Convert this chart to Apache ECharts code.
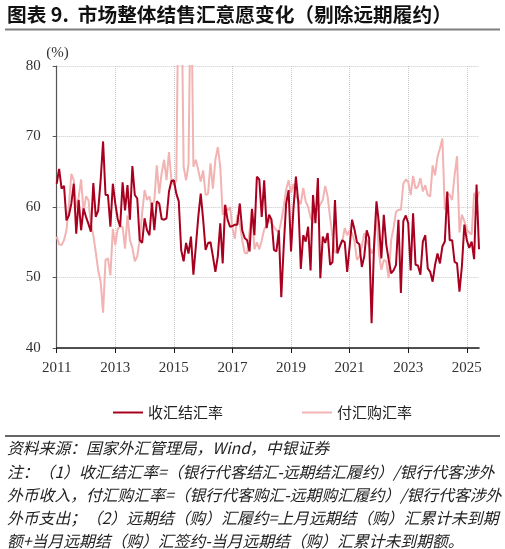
<!DOCTYPE html>
<html>
<head>
<meta charset="utf-8">
<script src="https://cdn.jsdelivr.net/npm/echarts@6/dist/echarts.min.js"></script>
<style>
html,body{margin:0;padding:0;background:#fff;}
#c{width:505px;height:549px;}
</style>
</head>
<body>
<div id="c"></div>
<script>
// ---- data ----
const startYear = 2011;
const monthCount = 174; // 2011-01 .. 2025-06
const categories = [];
for (let i = 0; i < monthCount; i++) {
  const y = startYear + Math.floor(i / 12);
  const m = (i % 12) + 1;
  categories.push(y + '-' + (m < 10 ? '0' + m : m));
}
const tickYears = ['2011','2013','2015','2017','2019','2021','2023','2025'];
const yTicks = [40, 50, 60, 70, 80];

// 收汇结汇率 (%)
const settleRate = [
63.3,65.4,62.6,63.0,58.1,58.8,60.5,63.3,56.2,61.0,
56.7,59.8,58.6,57.6,56.5,63.4,58.6,59.5,63.8,69.3,
61.7,61.7,57.2,63.3,60.5,58.3,57.2,63.5,59.5,63.1,
58.2,65.8,61.7,61.2,55.3,54.9,58.4,56.7,56.0,60.6,
56.7,60.8,60.5,58.3,58.2,58.4,62.2,63.7,63.8,61.9,
60.8,53.9,52.3,54.9,53.4,55.8,50.4,54.4,58.6,61.9,
58.2,53.9,54.9,55.0,53.0,50.8,53.0,57.7,52.0,60.3,
58.2,57.2,57.3,57.5,57.5,60.5,56.7,55.6,55.3,53.7,
59.7,56.0,64.3,63.9,58.6,63.8,57.0,58.9,58.2,53.9,
53.7,56.7,47.2,54.4,60.5,62.4,53.7,59.8,64.3,60.5,
51.2,56.0,55.1,57.2,51.0,61.7,57.7,64.1,49.9,55.8,
54.9,56.3,51.8,52.2,61.0,53.4,54.4,55.3,55.0,50.8,
54.4,58.2,56.8,55.0,54.7,51.5,53.0,56.7,55.6,43.5,
54.4,60.8,57.7,52.7,58.9,54.7,52.5,50.6,51.0,51.8,
58.2,47.8,58.0,58.8,57.7,51.0,59.1,51.8,51.7,50.4,
55.1,56.0,51.3,50.8,49.4,51.8,53.4,52.0,54.4,55.1,
62.2,55.3,55.3,52.2,52.0,48.0,51.6,57.5,55.3,54.2,
55.1,52.6,63.2,54.0
];

// 付汇购汇率 (%)
const purchaseRate = [
55.8,54.7,54.6,55.3,56.7,60.2,64.7,63.8,59.8,61.4,
63.9,59.3,61.5,61.0,57.6,56.0,53.6,51.0,49.4,45.0,
52.5,52.7,50.3,56.9,54.6,56.9,57.2,57.2,54.1,58.8,
55.3,54.2,52.3,53.0,55.3,59.1,62.4,61.0,61.5,60.0,
61.0,65.9,61.9,64.8,66.7,63.8,67.8,63.8,63.1,63.8,
95.0,95.0,65.7,63.8,66.0,95.0,65.7,66.7,65.2,63.6,
65.2,61.7,61.9,66.2,62.6,66.7,68.5,65.7,58.9,60.3,
59.5,60.0,57.0,55.5,58.9,57.7,55.3,53.5,53.4,56.5,
59.8,54.0,55.0,54.0,55.3,56.8,57.5,58.2,57.7,57.2,
56.7,56.5,58.0,60.0,62.5,63.8,62.0,63.3,61.5,61.0,
60.4,62.7,60.8,60.0,58.5,57.7,59.8,59.6,60.4,61.0,
63.0,61.5,58.5,55.8,53.5,54.0,54.6,55.1,57.0,56.0,
56.7,56.3,55.1,52.5,53.0,54.4,56.3,55.3,54.4,53.4,
54.2,59.3,53.4,51.1,52.5,52.3,49.9,55.3,57.0,59.3,
59.6,59.6,63.3,63.9,63.6,61.7,64.4,62.6,62.9,64.1,
62.2,63.1,61.7,61.5,65.9,64.5,67.1,68.3,69.7,59.6,
62.0,61.7,61.0,64.5,67.2,56.4,58.9,58.0,56.8,56.4,
56.1,62.0,60.8,62.2
];

const seriesNames = ['收汇结汇率', '付汇购汇率'];
const titleText = '图表 9.  市场整体结售汇意愿变化（剔除远期履约）';
const sourceText = '资料来源：国家外汇管理局，Wind，中银证券';
const noteLines = [
  '注：（1）收汇结汇率=（银行代客结汇-远期结汇履约）/银行代客涉外',
  '外币收入，付汇购汇率=（银行代客购汇-远期购汇履约）/银行代客涉外',
  '外币支出；（2）远期结（购）汇履约=上月远期结（购）汇累计未到期',
  '额+当月远期结（购）汇签约-当月远期结（购）汇累计未到期额。'
];

// ---- chart ----
const isYearTick = function (idx) {
  const label = categories[idx];
  if (!label) return false;
  const yr = label.slice(0, 4);
  return label.slice(5) === '01' && tickYears.indexOf(yr) >= 0;
};

const chart = echarts.init(document.getElementById('c'), null, {renderer: 'canvas'});
const serif = '"Liberation Serif", "DejaVu Serif", serif';
const cjk = '"Noto Sans CJK SC", "Noto Sans", sans-serif';

chart.setOption({
  animation: false,
  backgroundColor: '#ffffff',
  grid: {left: 56.7, right: 26, top: 66, bottom: 201, containLabel: false},
  legend: {
    data: seriesNames,
    left: 108, top: 400,
    icon: 'rect', itemWidth: 30, itemHeight: 2, itemGap: 79,
    textStyle: {fontFamily: cjk, fontSize: 15, color: '#222'}
  },
  xAxis: {
    type: 'category',
    data: categories,
    boundaryGap: false,
    axisLine: {show: true, lineStyle: {color: '#1a1a1a', width: 1.6}},
    axisTick: {show: true, inside: false, length: 5, interval: isYearTick, lineStyle: {color: '#1a1a1a'}},
    axisLabel: {
      interval: isYearTick, margin: 13,
      formatter: function (v) { return v.slice(0, 4); },
      fontFamily: serif, fontSize: 15, color: '#333'
    },
    splitLine: {show: true, interval: isYearTick, lineStyle: {color: '#c8c8c8', type: 'dotted', width: 1}}
  },
  yAxis: {
    type: 'value',
    min: yTicks[0], max: yTicks[yTicks.length - 1], interval: 10,
    axisLine: {show: true, lineStyle: {color: '#555', width: 1.2}},
    axisTick: {show: true, inside: false, length: 4, lineStyle: {color: '#555'}},
    axisLabel: {margin: 16, fontFamily: serif, fontSize: 15, color: '#333'},
    splitLine: {show: true, lineStyle: {color: '#c8c8c8', type: 'dotted', width: 1}}
  },
  series: [
    {
      name: seriesNames[1], type: 'line', data: purchaseRate,
      showSymbol: false, symbol: 'none', clip: true, z: 2,
      lineStyle: {color: '#F2B3B3', width: 2}, itemStyle: {color: '#F2B3B3'}
    },
    {
      name: seriesNames[0], type: 'line', data: settleRate,
      showSymbol: false, symbol: 'none', clip: true, z: 3,
      lineStyle: {color: '#A8001F', width: 2}, itemStyle: {color: '#A8001F'}
    }
  ],
  graphic: [
    {type: 'text', left: 7, top: 5, z: 10,
     style: {text: titleText, fontFamily: cjk, fontSize: 19.7, fontWeight: 'bold', fill: '#111'}},
    {type: 'line', z: 10, shape: {x1: 5, y1: 29.5, x2: 500, y2: 29.5},
     style: {stroke: '#7f7f7f', lineWidth: 2}},
    {type: 'text', z: 10, x: 57.5, y: 53,
     style: {text: '(%)', fontFamily: serif, fontSize: 15, fill: '#333', textAlign: 'center', textVerticalAlign: 'middle'}},
    {type: 'line', z: 10, shape: {x1: 5, y1: 436, x2: 500, y2: 436},
     style: {stroke: '#333', lineWidth: 1.5}},
    {type: 'text', z: 10, x: 7, y: 448,
     style: {text: sourceText, fontFamily: cjk, fontSize: 15.8, fontStyle: 'italic', fill: '#222', textVerticalAlign: 'middle'}},
    {type: 'text', z: 10, x: 7, y: 460.5,
     style: {text: noteLines.join('\n'), fontFamily: cjk, fontSize: 15.8, fontStyle: 'italic', lineHeight: 23, fill: '#222'}}
  ]
});
</script>
</body>
</html>
